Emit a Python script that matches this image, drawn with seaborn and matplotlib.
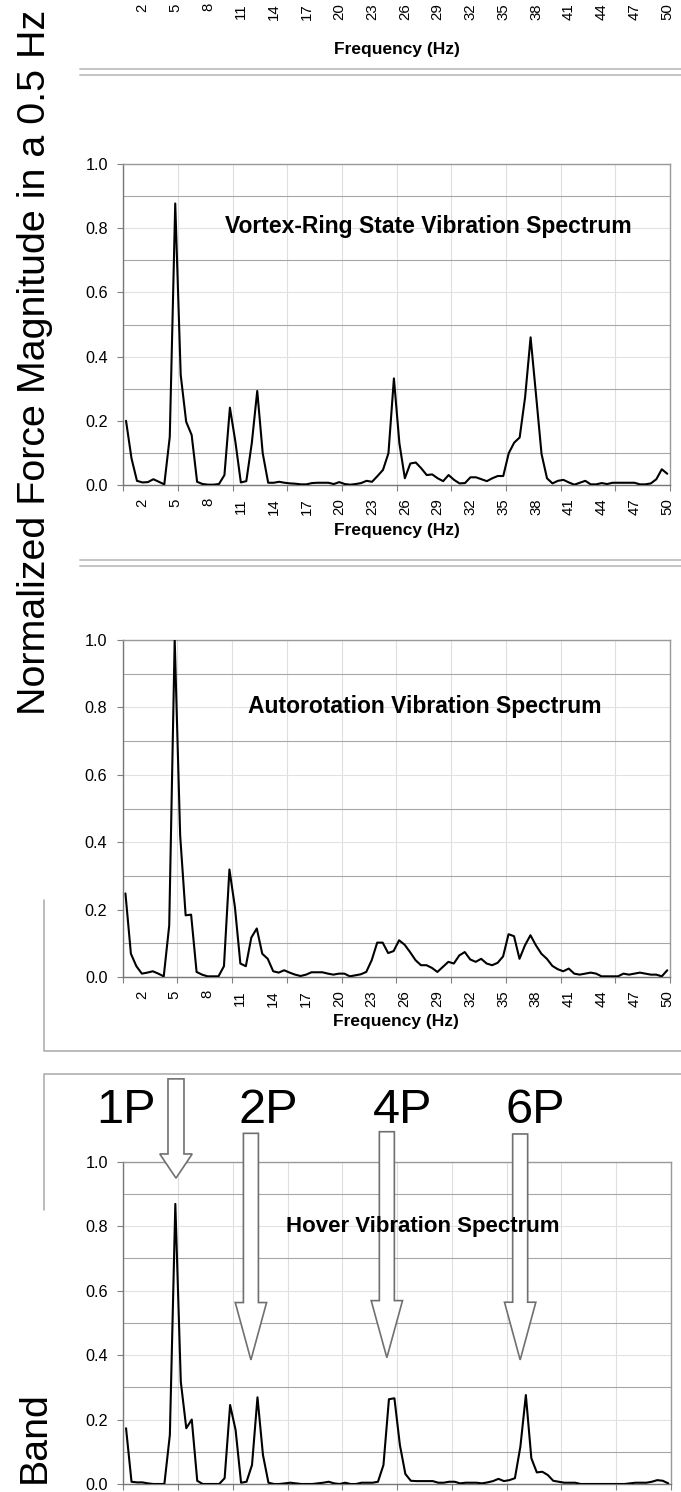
import numpy as np
import pandas as pd
import matplotlib
matplotlib.use("Agg")
import matplotlib.pyplot as plt
from matplotlib.lines import Line2D
from matplotlib.patches import Polygon
import seaborn as sns

W, H = 681, 1492

# 0.5 Hz frequency bands (category axis)
freq = np.arange(0.5, 50.01, 0.5)

vortex = [0.200, 0.083, 0.013, 0.008, 0.009, 0.018, 0.010, 0.002, 0.150, 0.877,
          0.343, 0.197, 0.156, 0.010, 0.003, 0.001, 0.001, 0.003, 0.031, 0.241,
          0.135, 0.008, 0.012, 0.130, 0.293, 0.099, 0.007, 0.007, 0.010, 0.007,
          0.005, 0.004, 0.002, 0.002, 0.006, 0.007, 0.007, 0.007, 0.003, 0.009,
          0.003, 0.001, 0.003, 0.006, 0.013, 0.010, 0.028, 0.047, 0.099, 0.332,
          0.130, 0.021, 0.067, 0.070, 0.052, 0.031, 0.033, 0.021, 0.012, 0.031,
          0.016, 0.005, 0.006, 0.024, 0.024, 0.018, 0.012, 0.021, 0.028, 0.028,
          0.099, 0.132, 0.148, 0.274, 0.460, 0.280, 0.097, 0.021, 0.005, 0.013,
          0.016, 0.008, 0.001, 0.007, 0.013, 0.002, 0.002, 0.006, 0.003, 0.007,
          0.007, 0.007, 0.007, 0.007, 0.002, 0.002, 0.005, 0.018, 0.049, 0.035]

autorotation = [0.248, 0.069, 0.032, 0.010, 0.013, 0.017, 0.010, 0.002, 0.153, 1.000,
                0.420, 0.183, 0.185, 0.015, 0.007, 0.002, 0.002, 0.002, 0.032, 0.319,
                0.208, 0.040, 0.032, 0.117, 0.144, 0.069, 0.054, 0.017, 0.013, 0.020,
                0.013, 0.007, 0.003, 0.007, 0.014, 0.014, 0.014, 0.010, 0.007, 0.010,
                0.010, 0.002, 0.005, 0.008, 0.015, 0.050, 0.102, 0.102, 0.071, 0.077,
                0.109, 0.096, 0.074, 0.050, 0.035, 0.035, 0.027, 0.015, 0.030, 0.045,
                0.040, 0.064, 0.074, 0.052, 0.045, 0.054, 0.040, 0.035, 0.042, 0.061,
                0.127, 0.121, 0.054, 0.094, 0.124, 0.094, 0.069, 0.054, 0.033, 0.023,
                0.017, 0.025, 0.010, 0.007, 0.010, 0.013, 0.010, 0.002, 0.002, 0.002,
                0.002, 0.010, 0.007, 0.010, 0.013, 0.010, 0.007, 0.007, 0.002, 0.020]

hover = [0.173, 0.007, 0.005, 0.005, 0.002, 0.000, 0.000, 0.000, 0.152, 0.869,
         0.317, 0.173, 0.200, 0.010, 0.000, 0.000, 0.000, 0.000, 0.018, 0.245,
         0.168, 0.004, 0.007, 0.059, 0.269, 0.090, 0.004, 0.000, 0.000, 0.002,
         0.004, 0.002, 0.000, 0.000, 0.000, 0.002, 0.004, 0.007, 0.002, 0.000,
         0.004, 0.000, 0.000, 0.004, 0.004, 0.004, 0.007, 0.059, 0.263, 0.266,
         0.121, 0.031, 0.010, 0.009, 0.009, 0.009, 0.009, 0.004, 0.004, 0.007,
         0.007, 0.002, 0.004, 0.004, 0.004, 0.002, 0.005, 0.009, 0.016, 0.009,
         0.012, 0.018, 0.116, 0.276, 0.080, 0.036, 0.038, 0.028, 0.010, 0.007,
         0.004, 0.004, 0.004, 0.000, 0.000, 0.000, 0.000, 0.000, 0.000, 0.000,
         0.000, 0.000, 0.002, 0.004, 0.004, 0.004, 0.007, 0.012, 0.010, 0.002]

tick_hz = [2, 5, 8, 11, 14, 17, 20, 23, 26, 29, 32, 35, 38, 41, 44, 47, 50]
grid_hz = [0.25, 5.25, 10.25, 15.25, 20.25, 25.25, 30.25, 35.25, 40.25, 45.25, 50.25]
y_major = [0.0, 0.2, 0.4, 0.6, 0.8, 1.0]
y_minor = [0.1, 0.3, 0.5, 0.7, 0.9]

# hover annotations: label, arrow centre (Hz), label x (Hz)
harmonics = ["1P", "2P", "4P", "6P"]
arrow_hz = [5.06, 11.9, 24.31, 36.48]
label_hz = [0.51, 13.49, 25.7, 37.9]
arrow_top = [1.257, 1.088, 1.093, 1.086]
arrow_base = [1.024, 0.563, 0.569, 0.564]
arrow_tip = [0.949, 0.385, 0.392, 0.385]

df = pd.DataFrame({"freq": freq, "vortex": vortex,
                   "autorotation": autorotation, "hover": hover})

sns.set_theme(style="white")
plt.rcParams["font.family"] = ["Liberation Sans", "DejaVu Sans"]
plt.rcParams["text.color"] = "black"
plt.rcParams["axes.labelcolor"] = "black"

fig = plt.figure(figsize=(W / 100, H / 100), dpi=100)
fig.patch.set_facecolor("white")


def px_box(left, top, right, bottom):
    return [left / W, 1 - bottom / H, (right - left) / W, (bottom - top) / H]


def fig_line(xs, ys, color="#a8a8a8", lw=1.1):
    fig.add_artist(Line2D([x / W for x in xs], [1 - y / H for y in ys],
                          transform=fig.transFigure, color=color, lw=lw))


def freq_ticks(ax, labels=True):
    ax.set_xlim(0.25, 50.25)
    ax.set_xticks(tick_hz)
    ax.set_xticklabels([str(t) for t in tick_hz], rotation=90)
    ax.set_xticks(grid_hz, minor=True)
    ax.tick_params(axis="x", which="major", length=0, pad=9.5,
                   labelsize=10.8, labelcolor="black", labelbottom=labels)
    ax.tick_params(axis="x", which="minor", bottom=True, length=4, width=0.8,
                   color="#808080", direction="out")


def spectrum(rect, col, title, tx, ty, tsize, xlabel_px):
    ax = fig.add_axes(rect)
    ax.grid(True, axis="x", which="minor", color="#dedede", lw=0.8)
    ax.grid(True, axis="y", which="major", color="#e2e2e2", lw=0.8)
    ax.grid(True, axis="y", which="minor", color="#a6a6a6", lw=0.8)
    ax.set_axisbelow(True)
    sns.lineplot(data=df, x="freq", y=col, ax=ax, color="black", linewidth=1.5,
                 zorder=3)
    freq_ticks(ax, labels=xlabel_px is not None)
    ax.set_ylim(0, 1)
    ax.set_yticks(y_major)
    ax.set_yticklabels([f"{v:.1f}" for v in y_major])
    ax.set_yticks(y_minor, minor=True)
    ax.tick_params(axis="y", which="major", left=True, length=4, width=0.8,
                   color="#808080", pad=7, labelsize=11.7, labelcolor="black")
    ax.tick_params(axis="y", which="minor", left=False, length=0)
    ax.set_ylabel("")
    if xlabel_px is not None:
        ax.set_xlabel("Frequency (Hz)", fontsize=12.5, fontweight="bold")
        ax.xaxis.set_label_coords(0.5, -xlabel_px / (rect[3] * H))
    else:
        ax.set_xlabel("")
    for side in ["left", "bottom"]:
        ax.spines[side].set_color("#777777")
        ax.spines[side].set_linewidth(1.0)
    for side in ["top", "right"]:
        ax.spines[side].set_color("#999999")
        ax.spines[side].set_linewidth(1.0)
    ax.text(tx, ty, title, fontsize=tsize, fontweight="bold", ha="center",
            va="baseline", zorder=6)
    return ax


# cut-off chart above: only its frequency axis remains visible
ax0 = fig.add_axes(px_box(123.3, -110, 670, -10))
ax0.set_facecolor("none")
freq_ticks(ax0)
ax0.tick_params(axis="x", which="minor", length=0)
ax0.set_yticks([])
for s in ax0.spines.values():
    s.set_visible(False)
ax0.set_xlabel("Frequency (Hz)", fontsize=12.5, fontweight="bold")
ax0.xaxis.set_label_coords(0.5, -52 / 100)

ax1 = spectrum(px_box(123.3, 164, 670, 485), "vortex",
               "Vortex-Ring State Vibration Spectrum", 28.19, 0.784, 16.5, 38)
ax2 = spectrum(px_box(122.7, 640, 670, 977), "autorotation",
               "Autorotation Vibration Spectrum", 27.84, 0.7825, 16.5, 37)
ax3 = spectrum(px_box(123.3, 1161.7, 671, 1484), "hover",
               "Hover Vibration Spectrum", 27.55, 0.783, 16.0, None)

# 1P/2P/4P/6P block arrows
for i, name in enumerate(harmonics):
    c = arrow_hz[i]
    w, hw = (0.73, 1.48) if i == 0 else (0.685, 1.43)
    t, b, p = arrow_top[i], arrow_base[i], arrow_tip[i]
    pts = [(c - w, t), (c + w, t), (c + w, b), (c + hw, b), (c, p),
           (c - hw, b), (c - w, b)]
    ax3.add_patch(Polygon(pts, closed=True, facecolor="white", edgecolor="#707070",
                          lw=1.2, clip_on=False, zorder=4))
    ax3.text(label_hz[i], 1.12, name, fontsize=35, ha="center", va="baseline",
             color="black", clip_on=False, zorder=7)

# separators and frames between the stacked charts
fig_line([80, 681], [69, 69], "#c4c4c4", 1.4)
fig_line([80, 681], [75, 75], "#c4c4c4", 1.4)
fig_line([80, 681], [559.5, 559.5], "#c4c4c4", 1.4)
fig_line([80, 681], [566, 566], "#c4c4c4", 1.4)
fig_line([44, 44, 681], [900, 1050.5, 1050.5])
fig_line([681, 44, 44], [1074, 1074, 1210])

# big shared y label (split by the crop)
fig.text(45 / W, 1 - 715 / H, "Normalized Force Magnitude in a 0.5 Hz", rotation=90,
         rotation_mode="anchor", ha="left", va="baseline", fontsize=28.4,
         color="black")
fig.text(45 / W, 1 - 1483 / H, "Band", rotation=90, rotation_mode="anchor",
         ha="left", va="baseline", fontsize=28.4, color="black")

fig.savefig("out.png", dpi=100)
